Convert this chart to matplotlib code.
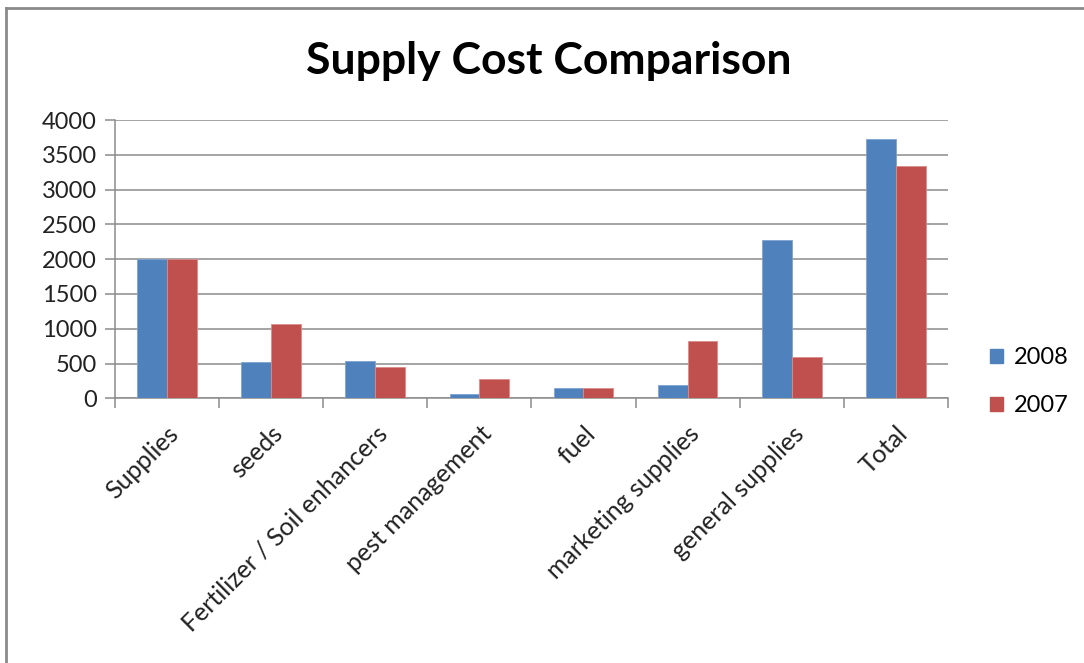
import numpy as np
import matplotlib
matplotlib.use("Agg")
import matplotlib.pyplot as plt
from matplotlib.lines import Line2D
from matplotlib.patches import Patch

categories = ["Supplies", "seeds", "Fertilizer / Soil enhancers", "pest management",
              "fuel", "marketing supplies", "general supplies", "Total"]
cost_2008 = [2000, 520, 540, 57, 152, 187, 2270, 3725]
cost_2007 = [2000, 1070, 445, 282, 152, 819, 593, 3338]
y_ticks = [0, 500, 1000, 1500, 2000, 2500, 3000, 3500, 4000]

blue = "#4F81BD"
red = "#C0504D"
grid_grey = "#8C8C8C"

plt.rcParams["font.family"] = ["Lato", "DejaVu Sans"]

fig = plt.figure(figsize=(10.84, 6.63), dpi=100)
ax = fig.add_axes([0.106, 0.3992, 0.7685, 0.4198])

x = np.arange(len(categories))
w = 1 / 3.5
ax.bar(x - w / 2, cost_2008, w, color=blue, edgecolor="#7FA3D3", linewidth=0.6, zorder=3)
ax.bar(x + w / 2, cost_2007, w, color=red, edgecolor="#D98C8A", linewidth=0.6, zorder=3)

ax.set_xlim(-0.5, len(categories) - 0.5)
ax.set_ylim(0, 4000)
ax.set_yticks(y_ticks)
ax.set_yticklabels([str(v) for v in y_ticks], fontsize=17, color="#222222")
ax.yaxis.grid(True, color=grid_grey, linewidth=1.1, zorder=0)
ax.set_axisbelow(True)

# labels at category centres, tick marks on the boundaries
ax.set_xticks(x)
ax.set_xticklabels(categories, rotation=45, ha="right", rotation_mode="anchor",
                   fontsize=18, color="#222222")
ax.set_xticks(np.arange(-0.5, len(categories)), minor=True)
ax.tick_params(axis="x", which="major", length=0, pad=17)
ax.tick_params(axis="x", which="minor", length=7, width=1.1, color=grid_grey, direction="out")
ax.tick_params(axis="y", length=7, width=1.1, color=grid_grey, pad=6)

for side in ["top", "right"]:
    ax.spines[side].set_visible(False)
for side in ["left", "bottom"]:
    ax.spines[side].set_color(grid_grey)
    ax.spines[side].set_linewidth(1.1)

fig.text(0.506, 0.908, "Supply Cost Comparison", ha="center", va="center",
         fontsize=32, fontweight="bold", color="black")

handles = [Patch(color=blue), Patch(color=red)]
fig.legend(handles, ["2008", "2007"], loc="center left", bbox_to_anchor=(0.894, 0.424),
           frameon=False, fontsize=17, handlelength=0.55, handleheight=0.55,
           handletextpad=0.45, labelspacing=1.15)

# chart-area frame along the left and top edges
fig.add_artist(Line2D([0.0055, 0.0055], [0, 0.988], transform=fig.transFigure,
                      color="#8A8A8A", linewidth=2))
fig.add_artist(Line2D([0.0055, 1], [0.988, 0.988], transform=fig.transFigure,
                      color="#8A8A8A", linewidth=2))

fig.savefig("out.png", dpi=100)
